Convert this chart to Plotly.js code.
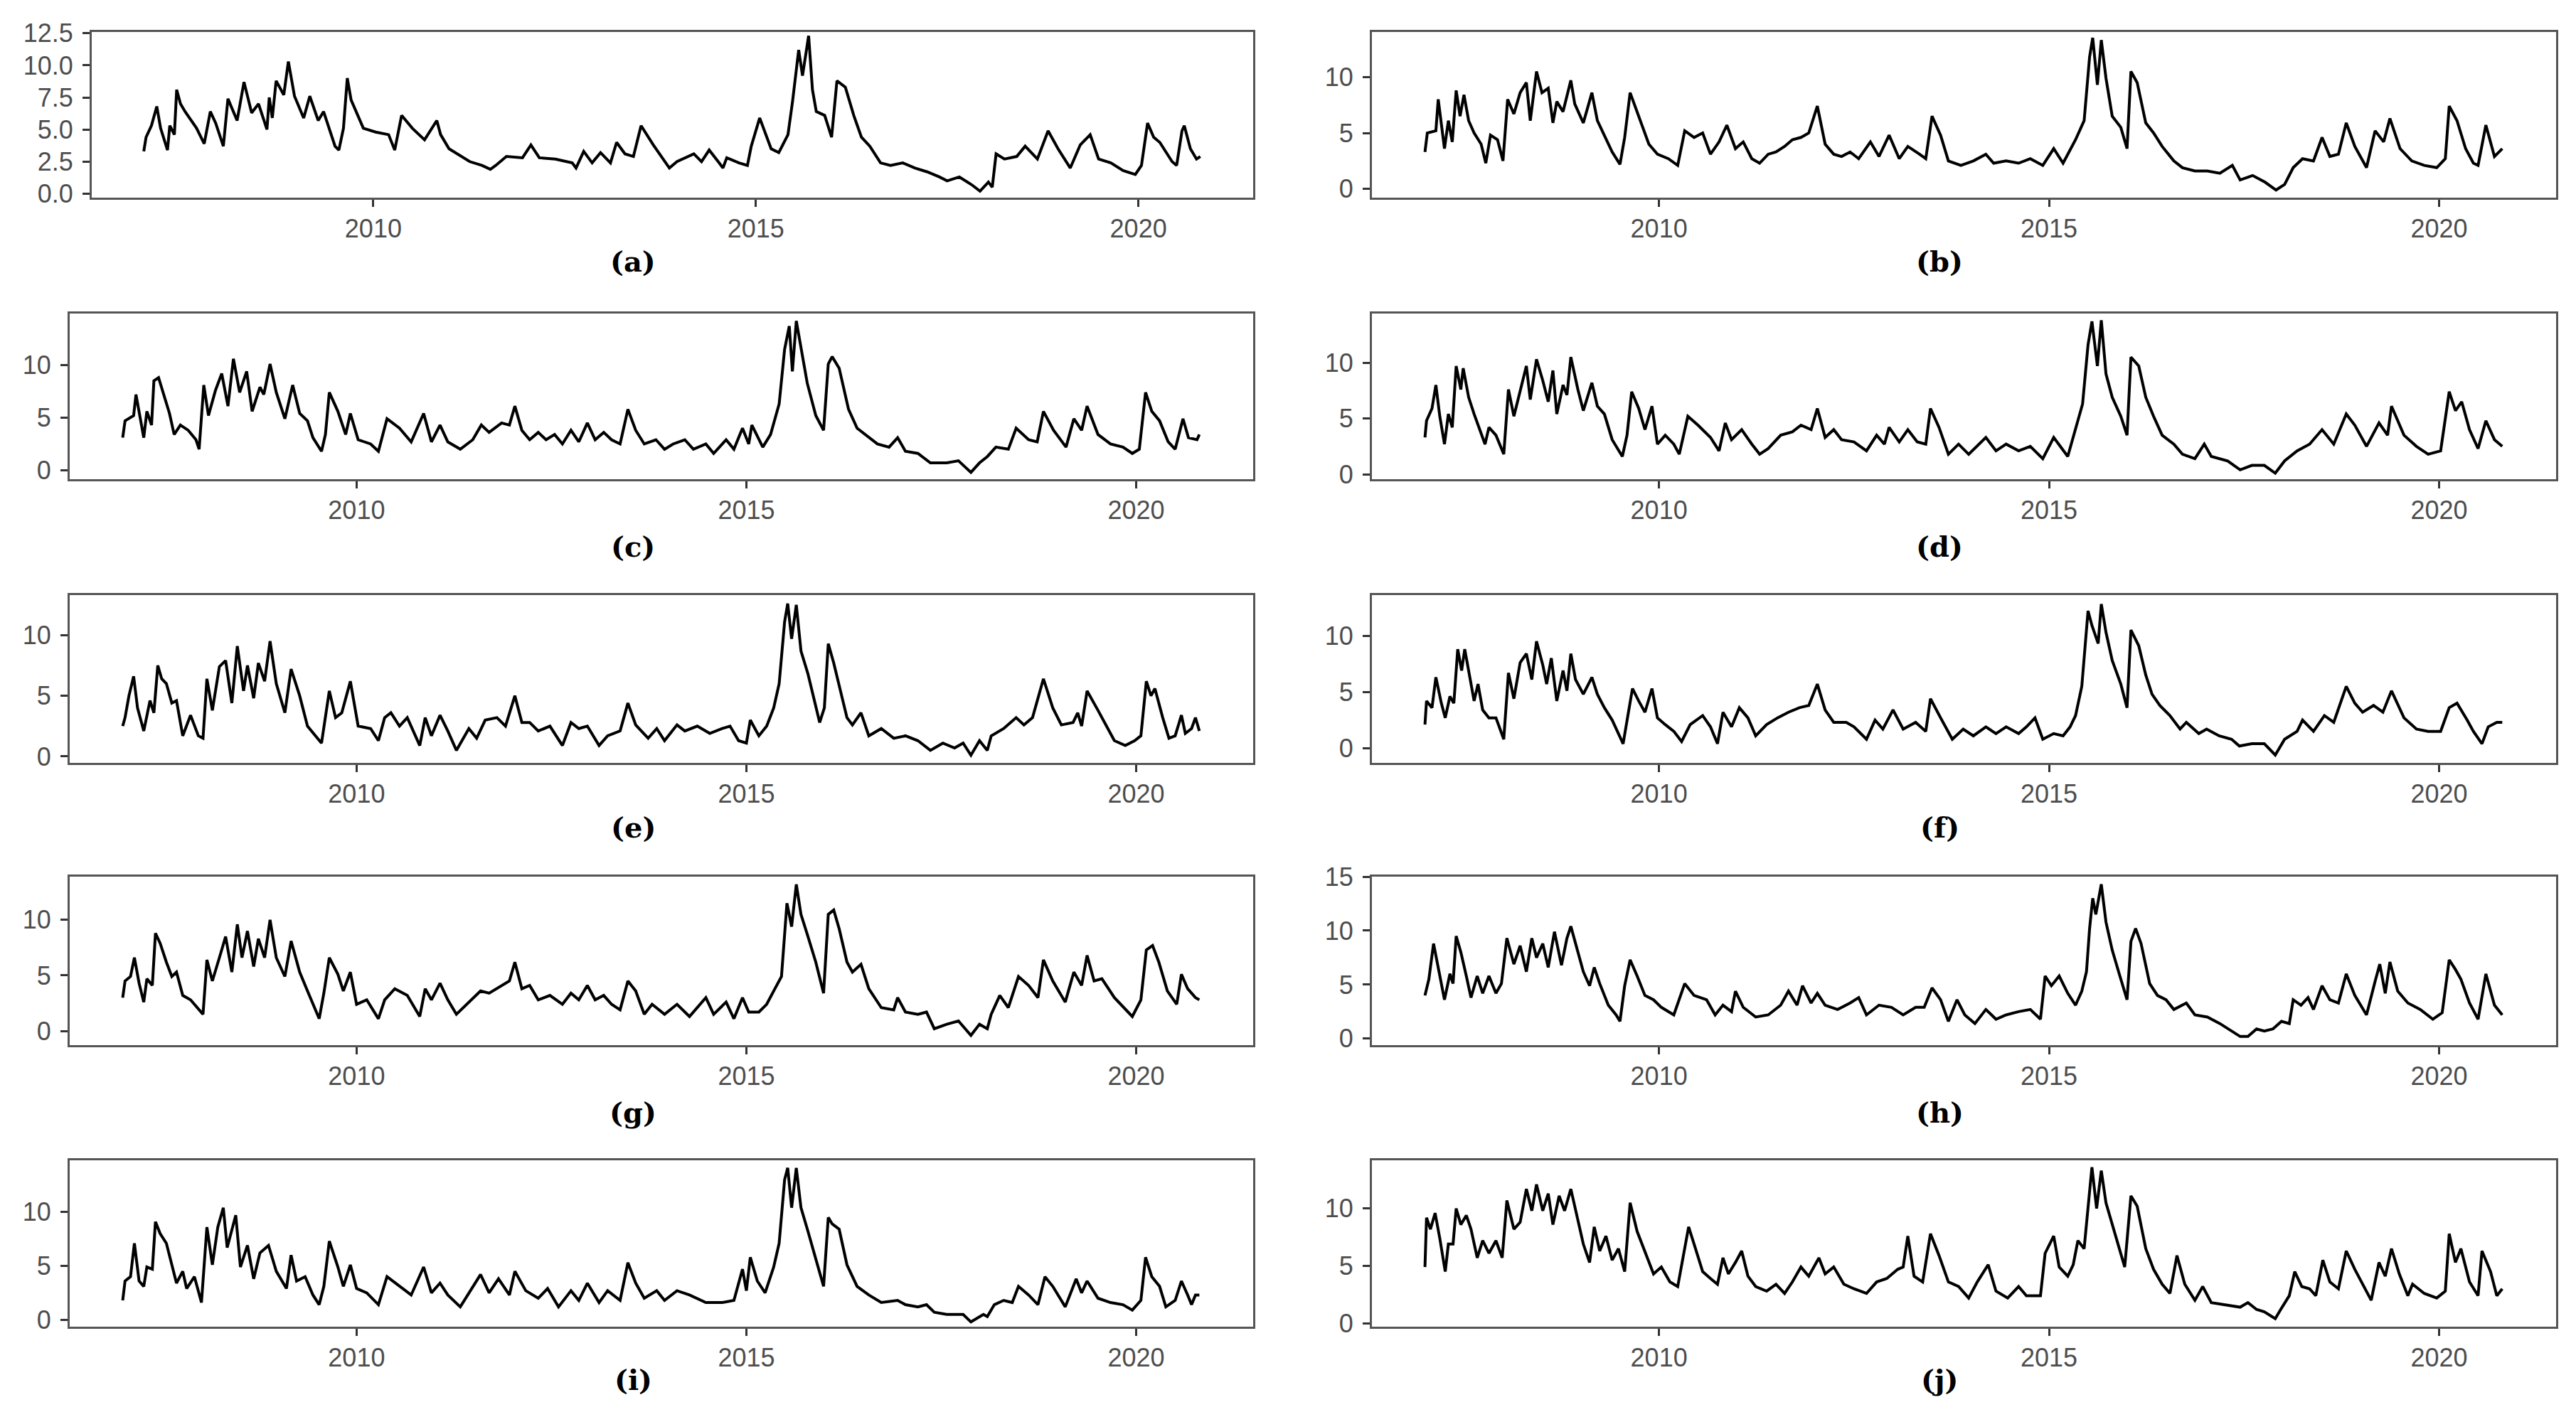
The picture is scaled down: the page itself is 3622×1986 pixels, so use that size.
<!DOCTYPE html>
<html>
<head>
<meta charset="utf-8">
<script src="https://cdn.plot.ly/plotly-3.0.1.min.js"></script>
<style>
html,body{margin:0;padding:0;background:#fff;}
#chart{width:3622px;height:1986px;}
</style>
</head>
<body>
<div id="chart"></div>
<script>
// ---- data: [decimal year, value] pairs ----
const seriesA = [[2007.00,3.3],[2007.03,4.4],[2007.10,5.3],[2007.17,6.8],[2007.22,5.1],[2007.31,3.4],[2007.34,5.3],[2007.40,4.6],[2007.43,8.1],[2007.48,7.0],[2007.54,6.4],[2007.60,5.9],[2007.69,5.1],[2007.79,3.9],[2007.87,6.4],[2007.94,5.5],[2008.04,3.7],[2008.10,7.4],[2008.22,5.7],[2008.31,8.7],[2008.41,6.3],[2008.50,7.0],[2008.61,5.0],[2008.64,7.5],[2008.68,5.9],[2008.73,8.8],[2008.83,7.7],[2008.89,10.3],[2008.97,7.6],[2009.09,5.9],[2009.17,7.6],[2009.28,5.7],[2009.35,6.4],[2009.50,3.7],[2009.55,3.4],[2009.61,5.1],[2009.66,9.0],[2009.71,7.3],[2009.87,5.1],[2010.03,4.8],[2010.20,4.6],[2010.28,3.4],[2010.37,6.1],[2010.51,5.1],[2010.67,4.2],[2010.83,5.7],[2010.88,4.6],[2010.99,3.5],[2011.10,3.1],[2011.26,2.5],[2011.42,2.2],[2011.53,1.9],[2011.60,2.2],[2011.74,2.9],[2011.95,2.8],[2012.06,3.8],[2012.17,2.8],[2012.38,2.7],[2012.60,2.4],[2012.65,2.0],[2012.75,3.3],[2012.86,2.4],[2012.97,3.2],[2013.10,2.4],[2013.18,4.0],[2013.29,3.1],[2013.40,2.9],[2013.50,5.3],[2013.66,3.8],[2013.76,2.9],[2013.87,2.0],[2013.97,2.5],[2014.19,3.1],[2014.29,2.5],[2014.39,3.4],[2014.52,2.4],[2014.57,2.0],[2014.62,2.8],[2014.78,2.4],[2014.89,2.2],[2014.94,3.7],[2015.05,5.9],[2015.20,3.5],[2015.30,3.2],[2015.42,4.6],[2015.48,7.2],[2015.56,11.2],[2015.61,9.2],[2015.69,12.3],[2015.74,8.1],[2015.79,6.4],[2015.90,6.1],[2015.99,4.4],[2016.06,8.8],[2016.17,8.3],[2016.28,6.1],[2016.38,4.4],[2016.49,3.7],[2016.63,2.4],[2016.76,2.2],[2016.92,2.4],[2017.08,2.0],[2017.24,1.7],[2017.40,1.3],[2017.50,1.0],[2017.66,1.3],[2017.82,0.7],[2017.93,0.2],[2018.04,0.9],[2018.09,0.5],[2018.14,3.1],[2018.25,2.7],[2018.41,2.9],[2018.52,3.7],[2018.68,2.7],[2018.82,4.9],[2018.95,3.5],[2019.11,2.0],[2019.24,3.8],[2019.37,4.6],[2019.48,2.7],[2019.64,2.4],[2019.80,1.8],[2019.96,1.5],[2020.04,2.2],[2020.12,5.5],[2020.20,4.4],[2020.28,4.0],[2020.44,2.5],[2020.50,2.2],[2020.57,4.9],[2020.60,5.3],[2020.68,3.5],[2020.76,2.7],[2020.81,2.9]];

const seriesB = [[2007.00,3.3],[2007.03,5.0],[2007.14,5.2],[2007.17,8.0],[2007.25,3.6],[2007.30,6.1],[2007.35,4.2],[2007.40,8.8],[2007.45,6.5],[2007.50,8.4],[2007.56,6.1],[2007.63,5.0],[2007.72,4.0],[2007.78,2.3],[2007.84,4.8],[2007.93,4.4],[2008.00,2.5],[2008.06,8.0],[2008.14,6.7],[2008.22,8.6],[2008.30,9.5],[2008.35,6.1],[2008.43,10.5],[2008.50,8.6],[2008.58,9.0],[2008.64,5.9],[2008.69,7.8],[2008.77,6.9],[2008.87,9.7],[2008.92,7.6],[2009.03,5.9],[2009.14,8.6],[2009.21,6.1],[2009.30,4.8],[2009.40,3.3],[2009.50,2.2],[2009.56,4.6],[2009.63,8.6],[2009.72,6.9],[2009.80,5.5],[2009.87,4.0],[2009.98,3.1],[2010.12,2.7],[2010.24,2.1],[2010.33,5.2],[2010.45,4.6],[2010.56,5.0],[2010.66,3.1],[2010.77,4.2],[2010.87,5.7],[2010.98,3.6],[2011.08,4.2],[2011.19,2.7],[2011.29,2.3],[2011.40,3.1],[2011.50,3.3],[2011.61,3.8],[2011.71,4.4],[2011.82,4.6],[2011.92,5.0],[2012.03,7.4],[2012.13,4.0],[2012.24,3.1],[2012.34,2.9],[2012.45,3.3],[2012.56,2.7],[2012.71,4.2],[2012.82,2.9],[2012.95,4.8],[2013.08,2.7],[2013.19,3.8],[2013.34,3.1],[2013.42,2.7],[2013.50,6.5],[2013.61,4.8],[2013.71,2.5],[2013.87,2.1],[2014.03,2.5],[2014.19,3.1],[2014.29,2.3],[2014.45,2.5],[2014.61,2.3],[2014.76,2.7],[2014.92,2.1],[2015.06,3.6],[2015.18,2.3],[2015.34,4.4],[2015.45,6.1],[2015.52,11.8],[2015.56,13.5],[2015.62,9.3],[2015.67,13.3],[2015.73,9.9],[2015.81,6.5],[2015.92,5.5],[2016.00,3.6],[2016.05,10.5],[2016.13,9.5],[2016.24,5.9],[2016.34,5.0],[2016.45,3.8],[2016.60,2.5],[2016.71,1.9],[2016.87,1.6],[2017.03,1.6],[2017.19,1.4],[2017.35,2.1],[2017.45,0.8],[2017.61,1.2],[2017.77,0.6],[2017.91,-0.1],[2018.02,0.4],[2018.13,1.9],[2018.25,2.7],[2018.39,2.5],[2018.50,4.6],[2018.60,2.9],[2018.71,3.1],[2018.81,5.9],[2018.92,3.8],[2019.07,1.9],[2019.18,5.2],[2019.29,4.2],[2019.37,6.3],[2019.50,3.6],[2019.65,2.5],[2019.81,2.1],[2019.97,1.9],[2020.08,2.7],[2020.13,7.4],[2020.23,6.1],[2020.34,3.6],[2020.44,2.3],[2020.50,2.1],[2020.60,5.7],[2020.71,2.9],[2020.81,3.6]];

const seriesC = [[2007.00,3.1],[2007.03,4.7],[2007.14,5.2],[2007.17,7.2],[2007.27,3.1],[2007.31,5.6],[2007.37,4.3],[2007.40,8.5],[2007.46,8.8],[2007.53,7.0],[2007.60,5.4],[2007.66,3.4],[2007.74,4.3],[2007.84,3.8],[2007.94,2.9],[2007.98,2.0],[2008.04,8.1],[2008.10,5.2],[2008.19,7.6],[2008.27,9.2],[2008.35,6.1],[2008.42,10.6],[2008.50,7.4],[2008.59,9.4],[2008.66,5.6],[2008.76,7.9],[2008.81,7.2],[2008.89,10.1],[2008.97,7.4],[2009.08,4.9],[2009.18,8.1],[2009.27,5.4],[2009.37,4.7],[2009.44,3.1],[2009.55,1.8],[2009.60,3.4],[2009.65,7.4],[2009.76,5.6],[2009.86,3.4],[2009.92,5.4],[2010.02,2.9],[2010.18,2.5],[2010.28,1.8],[2010.39,4.9],[2010.55,4.0],[2010.70,2.7],[2010.86,5.4],[2010.96,2.7],[2011.07,4.3],[2011.17,2.7],[2011.33,2.0],[2011.49,2.9],[2011.60,4.3],[2011.70,3.6],[2011.86,4.5],[2011.96,4.3],[2012.03,6.1],[2012.12,3.8],[2012.22,2.9],[2012.33,3.6],[2012.43,2.9],[2012.54,3.4],[2012.64,2.5],[2012.75,3.8],[2012.85,2.7],[2012.96,4.5],[2013.06,2.9],[2013.17,3.6],[2013.27,2.9],[2013.38,2.5],[2013.48,5.8],[2013.58,3.8],[2013.69,2.5],[2013.84,2.9],[2013.95,2.0],[2014.06,2.5],[2014.21,2.9],[2014.32,2.0],[2014.48,2.5],[2014.58,1.6],[2014.74,2.9],[2014.84,2.0],[2014.95,4.0],[2015.03,2.5],[2015.07,4.3],[2015.21,2.2],[2015.31,3.4],[2015.42,6.3],[2015.49,11.5],[2015.55,13.7],[2015.59,9.4],[2015.64,14.2],[2015.70,11.5],[2015.78,8.3],[2015.89,5.2],[2015.99,3.8],[2016.05,10.1],[2016.10,10.8],[2016.19,9.7],[2016.31,5.8],[2016.42,4.0],[2016.52,3.4],[2016.68,2.5],[2016.83,2.2],[2016.94,3.1],[2017.04,1.8],[2017.20,1.6],[2017.36,0.7],[2017.57,0.7],[2017.72,0.9],[2017.88,-0.2],[2017.99,0.7],[2018.09,1.3],[2018.20,2.2],[2018.36,2.0],[2018.46,4.0],[2018.62,2.9],[2018.73,2.7],[2018.81,5.6],[2018.94,3.8],[2019.10,2.2],[2019.20,4.9],[2019.30,3.8],[2019.37,6.1],[2019.51,3.4],[2019.67,2.5],[2019.83,2.2],[2019.95,1.6],[2020.04,2.0],[2020.12,7.4],[2020.20,5.6],[2020.30,4.7],[2020.41,2.7],[2020.50,2.0],[2020.60,4.9],[2020.67,3.1],[2020.78,2.9],[2020.81,3.4]];

const seriesD = [[2007.00,3.3],[2007.02,4.8],[2007.09,5.9],[2007.14,8.0],[2007.19,5.2],[2007.25,2.7],[2007.30,5.4],[2007.35,4.2],[2007.40,9.7],[2007.46,7.6],[2007.49,9.5],[2007.56,6.9],[2007.63,5.4],[2007.70,4.0],[2007.77,2.7],[2007.82,4.2],[2007.91,3.5],[2008.01,1.8],[2008.07,7.6],[2008.14,5.2],[2008.22,7.4],[2008.30,9.7],[2008.35,6.7],[2008.43,10.3],[2008.51,8.4],[2008.58,6.5],[2008.64,9.3],[2008.69,5.4],[2008.77,8.0],[2008.82,7.1],[2008.87,10.5],[2008.96,7.6],[2009.03,5.7],[2009.14,8.2],[2009.21,6.1],[2009.30,5.4],[2009.40,3.1],[2009.53,1.6],[2009.59,3.5],[2009.65,7.4],[2009.74,5.9],[2009.82,4.0],[2009.91,6.1],[2009.98,2.7],[2010.08,3.5],[2010.19,2.7],[2010.26,1.8],[2010.37,5.2],[2010.50,4.4],[2010.66,3.3],[2010.77,2.1],[2010.85,4.6],[2010.93,3.1],[2011.06,4.0],[2011.19,2.7],[2011.29,1.8],[2011.40,2.3],[2011.56,3.5],[2011.71,3.8],[2011.82,4.4],[2011.95,4.0],[2012.03,5.9],[2012.13,3.3],[2012.24,4.0],[2012.34,3.1],[2012.50,2.9],[2012.66,2.1],[2012.79,3.5],[2012.89,2.7],[2012.95,4.2],[2013.08,2.9],[2013.19,4.0],[2013.31,2.9],[2013.42,2.7],[2013.48,5.9],[2013.59,4.2],[2013.71,1.8],[2013.84,2.7],[2013.97,1.8],[2014.19,3.3],[2014.32,2.1],[2014.45,2.7],[2014.61,2.1],[2014.76,2.5],[2014.92,1.4],[2015.06,3.3],[2015.24,1.6],[2015.34,4.0],[2015.43,6.3],[2015.50,11.6],[2015.55,13.7],[2015.62,9.7],[2015.67,13.8],[2015.73,9.0],[2015.81,6.9],[2015.92,5.2],[2016.00,3.5],[2016.05,10.5],[2016.15,9.7],[2016.24,6.9],[2016.34,5.2],[2016.45,3.5],[2016.60,2.7],[2016.71,1.8],[2016.87,1.4],[2016.99,2.7],[2017.08,1.6],[2017.29,1.2],[2017.45,0.4],[2017.60,0.8],[2017.76,0.8],[2017.90,0.1],[2018.02,1.2],[2018.18,2.1],[2018.34,2.7],[2018.50,4.0],[2018.65,2.7],[2018.81,5.4],[2018.92,4.4],[2019.07,2.5],[2019.23,4.6],[2019.34,3.5],[2019.39,6.1],[2019.55,3.5],[2019.71,2.5],[2019.86,1.8],[2020.02,2.1],[2020.13,7.4],[2020.21,5.7],[2020.29,6.5],[2020.39,4.0],[2020.50,2.3],[2020.60,4.8],[2020.71,3.1],[2020.81,2.5]];

const seriesE = [[2007.00,2.5],[2007.03,3.2],[2007.08,5.0],[2007.14,6.6],[2007.19,4.0],[2007.27,2.1],[2007.35,4.6],[2007.40,3.6],[2007.45,7.5],[2007.50,6.4],[2007.56,6.0],[2007.63,4.4],[2007.69,4.6],[2007.77,1.7],[2007.87,3.4],[2007.97,1.7],[2008.03,1.5],[2008.08,6.4],[2008.15,3.8],[2008.24,7.4],[2008.32,7.9],[2008.40,4.4],[2008.47,9.1],[2008.55,5.4],[2008.60,7.5],[2008.68,4.8],[2008.74,7.7],[2008.82,6.2],[2008.89,9.5],[2008.97,6.0],[2009.08,3.6],[2009.16,7.2],[2009.27,5.0],[2009.37,2.5],[2009.55,1.1],[2009.60,3.4],[2009.65,5.4],[2009.73,3.2],[2009.81,3.6],[2009.92,6.2],[2010.02,2.5],[2010.18,2.3],[2010.28,1.3],[2010.36,3.2],[2010.44,3.6],[2010.55,2.5],[2010.65,3.2],[2010.81,0.9],[2010.88,3.2],[2010.96,1.7],[2011.07,3.4],[2011.17,2.1],[2011.28,0.5],[2011.44,2.3],[2011.54,1.5],[2011.65,3.0],[2011.80,3.2],[2011.91,2.5],[2012.03,5.0],[2012.12,2.8],[2012.22,2.8],[2012.33,2.1],[2012.48,2.5],[2012.64,0.9],[2012.75,2.8],[2012.85,2.3],[2012.96,2.5],[2013.11,0.9],[2013.22,1.7],[2013.38,2.1],[2013.48,4.4],[2013.58,2.6],[2013.74,1.5],[2013.85,2.3],[2013.95,1.3],[2014.11,2.6],[2014.21,2.1],[2014.37,2.5],[2014.53,1.9],[2014.69,2.3],[2014.79,2.5],[2014.90,1.3],[2015.00,1.1],[2015.05,3.0],[2015.16,1.7],[2015.26,2.5],[2015.35,4.0],[2015.42,6.0],[2015.49,11.1],[2015.53,12.6],[2015.58,9.7],[2015.64,12.5],[2015.70,8.7],[2015.79,6.8],[2015.89,4.0],[2015.94,2.8],[2016.00,4.0],[2016.05,9.3],[2016.12,7.7],[2016.21,5.4],[2016.29,3.2],[2016.36,2.6],[2016.47,3.6],[2016.57,1.7],[2016.73,2.3],[2016.89,1.5],[2017.04,1.7],[2017.20,1.3],[2017.36,0.5],[2017.52,1.1],[2017.67,0.7],[2017.78,1.1],[2017.88,0.1],[2017.99,1.3],[2018.09,0.5],[2018.14,1.7],[2018.30,2.3],[2018.46,3.2],[2018.56,2.6],[2018.67,3.2],[2018.81,6.4],[2018.93,4.0],[2019.04,2.6],[2019.19,2.8],[2019.25,3.6],[2019.30,2.5],[2019.37,5.4],[2019.51,3.8],[2019.61,2.6],[2019.72,1.3],[2019.86,0.9],[2019.98,1.3],[2020.06,1.7],[2020.13,6.2],[2020.19,5.0],[2020.24,5.6],[2020.34,3.2],[2020.42,1.5],[2020.50,1.7],[2020.58,3.4],[2020.63,1.9],[2020.71,2.3],[2020.76,3.2],[2020.81,2.1]];

const seriesF = [[2007.00,2.1],[2007.02,4.2],[2007.09,3.6],[2007.14,6.3],[2007.21,4.0],[2007.26,2.7],[2007.32,4.6],[2007.37,4.0],[2007.42,8.8],[2007.47,6.9],[2007.51,8.8],[2007.57,6.5],[2007.63,4.2],[2007.68,5.7],[2007.74,3.4],[2007.82,2.7],[2007.91,2.7],[2008.01,0.8],[2008.07,6.7],[2008.14,4.4],[2008.22,7.6],[2008.30,8.4],[2008.37,6.1],[2008.43,9.5],[2008.51,7.4],[2008.56,5.7],[2008.62,8.0],[2008.69,4.2],[2008.77,6.9],[2008.82,5.1],[2008.87,8.4],[2008.93,6.1],[2009.03,4.8],[2009.14,6.3],[2009.21,4.8],[2009.30,3.6],[2009.40,2.5],[2009.54,0.4],[2009.59,2.3],[2009.66,5.3],[2009.74,4.2],[2009.82,3.2],[2009.91,5.3],[2009.98,2.7],[2010.08,2.1],[2010.19,1.5],[2010.29,0.6],[2010.40,2.1],[2010.56,2.9],[2010.66,1.9],[2010.75,0.4],[2010.82,3.2],[2010.93,1.9],[2011.03,3.6],[2011.14,2.7],[2011.24,1.1],[2011.38,2.1],[2011.52,2.7],[2011.66,3.2],[2011.80,3.6],[2011.92,3.8],[2012.03,5.7],[2012.13,3.4],[2012.24,2.3],[2012.40,2.3],[2012.50,1.9],[2012.66,0.8],[2012.77,2.5],[2012.87,1.7],[2013.00,3.4],[2013.13,1.7],[2013.29,2.3],[2013.42,1.5],[2013.48,4.4],[2013.61,2.7],[2013.76,0.8],[2013.90,1.7],[2014.03,1.1],[2014.19,1.9],[2014.32,1.3],[2014.45,1.9],[2014.61,1.3],[2014.71,1.9],[2014.82,2.7],[2014.92,0.8],[2015.06,1.3],[2015.18,1.1],[2015.27,1.9],[2015.34,2.9],[2015.42,5.5],[2015.50,12.2],[2015.55,10.9],[2015.63,9.3],[2015.67,12.8],[2015.73,10.3],[2015.81,7.8],[2015.92,5.7],[2016.00,3.6],[2016.05,10.5],[2016.15,9.1],[2016.24,6.5],[2016.32,4.8],[2016.42,3.8],[2016.55,2.9],[2016.68,1.7],[2016.76,2.3],[2016.92,1.3],[2017.02,1.7],[2017.18,1.1],[2017.34,0.8],[2017.44,0.2],[2017.60,0.4],[2017.76,0.4],[2017.90,-0.6],[2018.02,0.8],[2018.18,1.5],[2018.25,2.5],[2018.39,1.5],[2018.53,2.9],[2018.65,2.3],[2018.81,5.5],[2018.92,4.0],[2019.02,3.2],[2019.16,3.8],[2019.28,3.2],[2019.39,5.1],[2019.55,2.7],[2019.71,1.7],[2019.86,1.5],[2020.02,1.5],[2020.13,3.6],[2020.23,4.0],[2020.36,2.5],[2020.44,1.5],[2020.55,0.4],[2020.63,1.9],[2020.74,2.3],[2020.81,2.3]];

const seriesG = [[2007.00,3.0],[2007.03,4.5],[2007.10,4.9],[2007.15,6.6],[2007.21,4.3],[2007.27,2.6],[2007.31,4.7],[2007.38,4.1],[2007.42,8.8],[2007.48,7.9],[2007.56,6.2],[2007.63,4.9],[2007.69,5.3],[2007.77,3.2],[2007.87,2.8],[2007.98,1.9],[2008.03,1.5],[2008.08,6.4],[2008.15,4.5],[2008.24,6.6],[2008.32,8.5],[2008.40,5.3],[2008.47,9.6],[2008.53,6.6],[2008.60,9.0],[2008.68,5.8],[2008.74,8.3],[2008.82,6.6],[2008.89,10.0],[2008.97,6.6],[2009.08,4.9],[2009.16,8.1],[2009.27,5.3],[2009.37,3.6],[2009.52,1.1],[2009.58,3.4],[2009.65,6.6],[2009.76,5.1],[2009.83,3.6],[2009.92,5.3],[2010.00,2.4],[2010.13,2.8],[2010.21,1.9],[2010.28,1.1],[2010.36,2.8],[2010.49,3.8],[2010.65,3.2],[2010.81,1.3],[2010.88,3.8],[2010.96,2.8],[2011.07,4.3],[2011.17,2.8],[2011.28,1.5],[2011.44,2.6],[2011.59,3.6],[2011.70,3.4],[2011.86,4.1],[2011.96,4.5],[2012.03,6.2],[2012.12,3.8],[2012.22,4.1],[2012.33,2.8],[2012.48,3.2],[2012.64,2.4],[2012.75,3.4],[2012.85,2.8],[2012.96,4.1],[2013.06,2.8],[2013.17,3.2],[2013.27,2.4],[2013.38,1.9],[2013.48,4.5],[2013.58,3.6],[2013.69,1.5],[2013.79,2.4],[2013.95,1.5],[2014.11,2.4],[2014.27,1.3],[2014.48,3.0],[2014.58,1.5],[2014.74,2.6],[2014.84,1.1],[2014.95,3.0],[2015.03,1.7],[2015.16,1.7],[2015.26,2.4],[2015.35,3.6],[2015.45,4.9],[2015.52,11.5],[2015.58,9.4],[2015.64,13.2],[2015.70,10.5],[2015.79,8.5],[2015.89,6.2],[2015.99,3.4],[2016.05,10.5],[2016.12,10.9],[2016.19,9.2],[2016.29,6.2],[2016.36,5.3],[2016.47,6.0],[2016.57,3.8],[2016.73,2.1],[2016.89,1.9],[2016.94,3.0],[2017.04,1.7],[2017.20,1.5],[2017.31,1.7],[2017.41,0.2],[2017.57,0.6],[2017.72,0.9],[2017.88,-0.4],[2017.99,0.6],[2018.09,0.2],[2018.14,1.5],[2018.25,3.2],[2018.36,2.1],[2018.49,4.9],[2018.62,4.1],[2018.74,3.0],[2018.81,6.4],[2018.93,4.5],[2019.09,2.6],[2019.20,5.3],[2019.30,4.1],[2019.37,6.8],[2019.46,4.5],[2019.56,4.7],[2019.72,3.0],[2019.95,1.3],[2020.06,2.8],[2020.13,7.3],[2020.21,7.7],[2020.29,6.2],[2020.40,3.6],[2020.52,2.4],[2020.58,5.1],[2020.66,3.8],[2020.76,3.0],[2020.81,2.8]];

const seriesH = [[2007.00,4.0],[2007.05,5.5],[2007.11,8.8],[2007.17,6.6],[2007.25,3.6],[2007.32,6.0],[2007.36,5.1],[2007.40,9.5],[2007.46,8.0],[2007.53,5.8],[2007.59,3.8],[2007.67,5.8],[2007.74,4.2],[2007.82,5.8],[2007.91,4.2],[2007.98,5.1],[2008.05,9.3],[2008.14,6.9],[2008.22,8.6],[2008.30,6.2],[2008.37,9.3],[2008.43,7.5],[2008.51,8.8],[2008.58,6.6],[2008.66,9.9],[2008.75,6.8],[2008.82,9.3],[2008.87,10.4],[2008.96,8.0],[2009.03,6.2],[2009.11,4.9],[2009.17,6.6],[2009.24,5.1],[2009.35,3.1],[2009.45,2.2],[2009.50,1.6],[2009.56,4.9],[2009.63,7.3],[2009.72,5.8],[2009.82,4.0],[2009.93,3.6],[2010.03,2.9],[2010.19,2.2],[2010.33,5.1],[2010.45,4.0],[2010.61,3.6],[2010.72,2.2],[2010.82,3.1],[2010.93,2.5],[2010.98,4.4],[2011.08,2.9],[2011.24,2.0],[2011.40,2.2],[2011.56,3.1],[2011.66,4.4],[2011.77,3.1],[2011.84,4.9],[2011.95,3.3],[2012.03,4.2],[2012.13,3.1],[2012.29,2.7],[2012.45,3.3],[2012.56,3.8],[2012.66,2.2],[2012.82,3.1],[2012.98,2.9],[2013.13,2.2],[2013.29,2.9],[2013.40,2.9],[2013.50,4.7],[2013.61,3.6],[2013.71,1.6],[2013.82,3.6],[2013.92,2.2],[2014.05,1.4],[2014.19,2.7],[2014.32,1.8],[2014.45,2.2],[2014.61,2.5],[2014.76,2.7],[2014.89,1.8],[2014.95,5.8],[2015.03,4.9],[2015.13,5.8],[2015.24,4.2],[2015.34,3.1],[2015.42,4.4],[2015.48,6.2],[2015.52,10.2],[2015.56,13.0],[2015.60,11.5],[2015.67,14.3],[2015.73,10.8],[2015.81,8.2],[2015.90,6.0],[2016.00,3.6],[2016.05,9.0],[2016.11,10.2],[2016.18,8.8],[2016.29,5.1],[2016.39,4.0],[2016.50,3.6],[2016.60,2.7],[2016.76,3.3],[2016.87,2.2],[2017.03,2.0],[2017.19,1.4],[2017.35,0.7],[2017.45,0.2],[2017.55,0.2],[2017.66,0.9],[2017.76,0.7],[2017.87,0.9],[2017.98,1.6],[2018.08,1.4],[2018.13,3.6],[2018.23,3.1],[2018.32,3.8],[2018.39,2.7],[2018.50,4.9],[2018.60,3.6],[2018.71,3.3],[2018.81,6.0],[2018.92,4.0],[2019.07,2.2],[2019.18,5.3],[2019.24,6.9],[2019.31,4.2],[2019.37,7.1],[2019.47,4.4],[2019.60,3.3],[2019.76,2.7],[2019.92,1.8],[2020.04,2.4],[2020.13,7.3],[2020.21,6.4],[2020.28,5.5],[2020.39,3.3],[2020.50,1.8],[2020.60,6.0],[2020.71,3.1],[2020.81,2.2]];

const seriesI = [[2007.00,1.8],[2007.03,3.6],[2007.10,4.0],[2007.15,7.1],[2007.21,3.6],[2007.27,3.1],[2007.31,4.9],[2007.38,4.7],[2007.42,9.1],[2007.48,8.0],[2007.56,7.1],[2007.63,5.1],[2007.69,3.4],[2007.77,4.5],[2007.82,2.9],[2007.92,4.0],[2008.01,1.6],[2008.08,8.6],[2008.15,5.1],[2008.22,8.6],[2008.29,10.4],[2008.34,6.7],[2008.45,9.7],[2008.51,4.9],[2008.60,6.9],[2008.68,3.8],[2008.76,6.2],[2008.87,6.9],[2008.97,4.5],[2009.10,2.9],[2009.16,6.0],[2009.23,3.6],[2009.34,4.0],[2009.44,2.3],[2009.52,1.4],[2009.58,3.1],[2009.65,7.3],[2009.76,4.9],[2009.83,3.1],[2009.92,5.1],[2010.00,2.9],[2010.13,2.5],[2010.28,1.4],[2010.39,4.0],[2010.55,3.1],[2010.70,2.3],[2010.86,4.9],[2010.96,2.5],[2011.07,3.4],[2011.17,2.3],[2011.33,1.2],[2011.44,2.5],[2011.59,4.2],[2011.70,2.5],[2011.82,3.8],[2011.96,2.3],[2012.03,4.5],[2012.17,2.7],[2012.33,2.0],[2012.45,2.9],[2012.59,1.2],[2012.75,2.7],[2012.85,1.8],[2012.96,3.4],[2013.11,1.6],[2013.22,2.7],[2013.38,1.8],[2013.48,5.3],[2013.58,3.4],[2013.69,2.0],[2013.85,2.7],[2013.95,1.8],[2014.11,2.7],[2014.27,2.3],[2014.48,1.6],[2014.69,1.6],[2014.84,1.8],[2014.95,4.7],[2015.00,2.7],[2015.05,5.8],[2015.14,3.6],[2015.24,2.5],[2015.35,4.9],[2015.42,7.1],[2015.49,13.0],[2015.53,14.1],[2015.58,10.4],[2015.64,14.1],[2015.70,10.4],[2015.79,8.2],[2015.89,5.6],[2015.99,3.1],[2016.05,9.5],[2016.10,8.9],[2016.19,8.4],[2016.29,5.1],[2016.42,3.1],[2016.57,2.3],[2016.73,1.6],[2016.94,1.8],[2017.04,1.4],[2017.20,1.2],[2017.31,1.4],[2017.41,0.7],[2017.57,0.5],[2017.78,0.5],[2017.88,-0.2],[2018.04,0.5],[2018.09,0.3],[2018.18,1.4],[2018.30,1.8],[2018.41,1.6],[2018.49,3.1],[2018.62,2.3],[2018.74,1.4],[2018.83,4.0],[2018.93,3.1],[2019.09,1.2],[2019.23,3.8],[2019.30,2.5],[2019.37,3.6],[2019.51,2.0],[2019.67,1.6],[2019.83,1.4],[2019.95,0.9],[2020.06,1.8],[2020.12,5.8],[2020.20,4.0],[2020.30,3.1],[2020.38,1.2],[2020.50,1.8],[2020.58,3.6],[2020.66,2.3],[2020.71,1.4],[2020.76,2.3],[2020.81,2.3]];

const seriesJ = [[2007.00,4.9],[2007.02,9.2],[2007.07,8.2],[2007.13,9.6],[2007.19,7.4],[2007.26,4.5],[2007.30,6.9],[2007.36,6.9],[2007.40,10.0],[2007.46,8.6],[2007.53,9.4],[2007.59,8.2],[2007.67,5.7],[2007.74,7.2],[2007.82,6.1],[2007.91,7.2],[2007.99,5.7],[2008.05,10.7],[2008.14,8.2],[2008.22,8.8],[2008.30,11.7],[2008.37,9.8],[2008.43,12.1],[2008.51,9.8],[2008.58,11.3],[2008.64,8.6],[2008.72,11.1],[2008.79,9.8],[2008.87,11.7],[2008.96,9.0],[2009.03,6.9],[2009.11,5.3],[2009.17,8.4],[2009.24,6.3],[2009.32,7.6],[2009.40,5.5],[2009.48,6.5],[2009.56,4.5],[2009.63,10.5],[2009.72,8.0],[2009.82,6.3],[2009.93,4.3],[2010.03,4.9],[2010.14,3.6],[2010.24,3.2],[2010.33,6.5],[2010.38,8.4],[2010.45,6.9],[2010.56,4.5],[2010.66,3.9],[2010.75,3.4],[2010.82,5.7],[2010.89,4.3],[2010.98,5.3],[2011.06,6.3],[2011.14,4.1],[2011.24,3.2],[2011.38,2.8],[2011.50,3.4],[2011.61,2.6],[2011.71,3.6],[2011.82,4.9],[2011.92,4.1],[2012.05,5.7],[2012.13,4.3],[2012.24,4.9],[2012.37,3.4],[2012.50,3.0],[2012.66,2.6],[2012.79,3.6],[2012.92,3.9],[2013.06,4.7],[2013.13,4.9],[2013.19,7.6],[2013.27,4.1],[2013.38,3.6],[2013.48,7.8],[2013.59,5.9],[2013.71,3.6],[2013.84,3.2],[2013.97,2.2],[2014.08,3.6],[2014.22,5.1],[2014.32,2.8],[2014.47,2.2],[2014.61,3.2],[2014.71,2.4],[2014.89,2.4],[2014.95,6.1],[2015.06,7.6],[2015.13,4.9],[2015.24,4.1],[2015.31,5.1],[2015.37,7.2],[2015.45,6.5],[2015.52,11.5],[2015.55,13.6],[2015.61,10.0],[2015.67,13.3],[2015.73,10.5],[2015.81,8.6],[2015.92,5.9],[2015.97,4.9],[2016.05,11.1],[2016.13,10.2],[2016.24,6.5],[2016.34,4.7],[2016.45,3.4],[2016.55,2.6],[2016.64,5.9],[2016.74,3.4],[2016.87,2.0],[2016.97,3.2],[2017.08,1.8],[2017.29,1.6],[2017.45,1.4],[2017.55,1.8],[2017.66,1.2],[2017.76,1.0],[2017.90,0.4],[2017.97,1.2],[2018.08,2.4],[2018.15,4.5],[2018.24,3.2],[2018.34,3.0],[2018.42,2.4],[2018.51,5.5],[2018.60,3.6],[2018.71,3.0],[2018.81,6.3],[2018.92,4.7],[2019.13,2.0],[2019.23,5.3],[2019.31,4.1],[2019.39,6.5],[2019.49,4.3],[2019.60,2.4],[2019.66,3.4],[2019.81,2.6],[2019.97,2.2],[2020.08,2.8],[2020.13,7.8],[2020.21,5.3],[2020.28,6.5],[2020.39,3.6],[2020.50,2.4],[2020.55,6.3],[2020.66,4.5],[2020.74,2.4],[2020.81,3.0]];

const panelLabels = ['(a)','(b)','(c)','(d)','(e)','(f)','(g)','(h)','(i)','(j)'];
const xTickVals = [2010, 2015, 2020];
const xTickText = ['2010', '2015', '2020'];

// ---- layout (styling / positions) ----
const W = 3622, H = 1986;
const allSeries = [seriesA, seriesB, seriesC, seriesD, seriesE, seriesF, seriesG, seriesH, seriesI, seriesJ];
const yRanges = [[-0.31,12.6],[-0.78,14.02],[-0.85,14.9],[-0.44,14.4],[-0.53,13.3],[-1.3,13.6],[-1.28,13.9],[-0.6,15.0],[-0.64,14.8],[-0.3,14.2]];
const rowTop = [45, 441, 837, 1233, 1632];
const rowBot = [278, 674, 1073, 1470, 1866];
const capY = [368, 768, 1163, 1564, 1940];
const colLeft = [98, 1929], colRight = [1762, 3594], capX = [890, 2727];

const fx = v => v / W;
const fy = v => 1 - v / H;

const tickFont = {family: 'Liberation Sans, Arial, sans-serif', size: 36, color: '#4d4d4d'};
const data = [];
const layout = {
  width: W, height: H,
  margin: {l: 0, r: 0, t: 0, b: 0},
  paper_bgcolor: '#ffffff', plot_bgcolor: '#ffffff',
  showlegend: false,
  annotations: []
};

allSeries.forEach((s, i) => {
  const row = Math.floor(i / 2), col = i % 2;
  const n = i + 1;
  const xa = 'xaxis' + (n === 1 ? '' : n), ya = 'yaxis' + (n === 1 ? '' : n);
  const xr = 'x' + (n === 1 ? '' : n), yr = 'y' + (n === 1 ? '' : n);
  const left = (i === 0) ? 129 : colLeft[col];
  data.push({
    type: 'scatter', mode: 'lines',
    x: s.map(p => p[0]), y: s.map(p => p[1]),
    xaxis: xr, yaxis: yr,
    line: {color: '#000000', width: 4},
    hoverinfo: 'skip'
  });
  layout[xa] = {
    domain: [fx(left), fx(colRight[col])],
    range: [2006.32, 2021.5],
    anchor: yr,
    tickmode: 'array', tickvals: xTickVals, ticktext: xTickText,
    ticks: 'outside', ticklen: 10, tickwidth: 3, tickcolor: '#333333',
    showline: true, mirror: true, linecolor: '#555555', linewidth: 3,
    showgrid: false, zeroline: false,
    tickfont: tickFont, ticklabelstandoff: 0
  };
  const isA = (i === 0);
  layout[ya] = {
    domain: [fy(rowBot[row]), fy(rowTop[row])],
    range: yRanges[i],
    anchor: xr,
    tickmode: 'linear', tick0: 0, dtick: isA ? 2.5 : 5,
    tickformat: isA ? '.1f' : 'd',
    ticks: 'outside', ticklen: 10, tickwidth: 3, tickcolor: '#333333',
    showline: true, mirror: true, linecolor: '#555555', linewidth: 3,
    showgrid: false, zeroline: false,
    tickfont: tickFont, ticklabelstandoff: 6
  };
  layout.annotations.push({
    xref: 'paper', yref: 'paper',
    x: fx(capX[col]), y: fy(capY[row]),
    xanchor: 'center', yanchor: 'middle',
    text: '<b>' + panelLabels[i] + '</b>',
    showarrow: false,
    font: {family: 'DejaVu Serif, Liberation Serif, serif', size: 40, color: '#000000'}
  });
});

Plotly.newPlot('chart', data, layout, {displayModeBar: false, staticPlot: true});
</script>
</body>
</html>
